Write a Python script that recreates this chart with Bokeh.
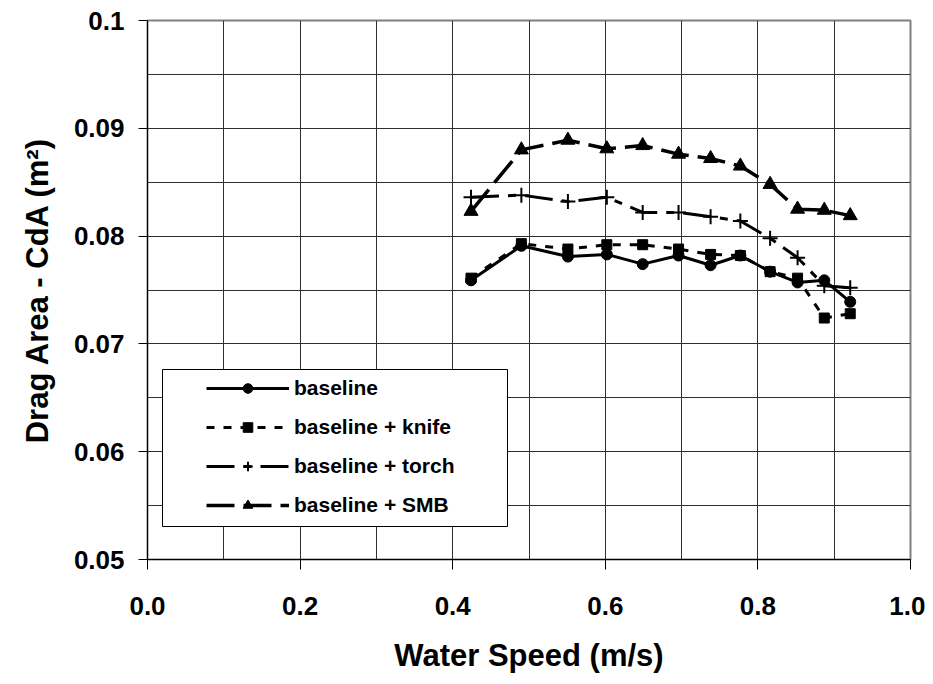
from bokeh.plotting import figure
from bokeh.models import Legend, LegendItem, BoxAnnotation, FixedTicker, NumeralTickFormatter
from bokeh.embed import file_html
from bokeh.resources import INLINE

# ---- data ----
speed = [0.424, 0.490, 0.551, 0.602, 0.649, 0.696, 0.738, 0.777, 0.816, 0.852, 0.887, 0.921]
baseline = [0.0759, 0.0791, 0.0781, 0.0783, 0.0774, 0.0782, 0.0773, 0.0782, 0.0767, 0.0757, 0.0759, 0.0739]
knife = [0.0761, 0.0793, 0.0788, 0.0792, 0.0792, 0.0788, 0.0783, 0.0782, 0.0767, 0.0761, 0.0724, 0.0728]
torch = [0.0836, 0.0838, 0.0832, 0.0836, 0.0822, 0.0822, 0.0818, 0.0814, 0.0798, 0.0780, 0.0754, 0.0752]
smb = [0.0823, 0.0880, 0.0889, 0.0881, 0.0884, 0.0876, 0.0872, 0.0865, 0.0848, 0.0825, 0.0824, 0.0819]
series_names = ["baseline", "baseline + knife", "baseline + torch", "baseline + SMB"]

x_ticks = [0.0, 0.2, 0.4, 0.6, 0.8, 1.0]
x_minor = [0.1, 0.3, 0.5, 0.7, 0.9]
y_ticks = [0.05, 0.06, 0.07, 0.08, 0.09, 0.1]
y_minor = [0.055, 0.065, 0.075, 0.085, 0.095]

FONT = "Liberation Sans"

p = figure(width=925, height=676, x_range=(0, 1), y_range=(0.05, 0.1),
           output_backend="svg", toolbar_location=None,
           min_border_left=147, min_border_right=15, min_border_top=20, min_border_bottom=117)

p.background_fill_color = "white"
p.border_fill_color = "white"
p.outline_line_color = "#808080"
p.outline_line_width = 2

# axes
p.xaxis.ticker = FixedTicker(ticks=x_ticks, minor_ticks=x_minor)
p.yaxis.ticker = FixedTicker(ticks=y_ticks, minor_ticks=y_minor)
p.xaxis.formatter = NumeralTickFormatter(format="0.0")
p.yaxis.formatter = NumeralTickFormatter(format="0.0[0]")
for ax in (p.xaxis, p.yaxis):
    ax.axis_line_color = "black"
    ax.axis_line_width = 1
    ax.major_tick_line_color = "black"
    ax.major_tick_in = 0
    ax.minor_tick_line_color = None
    ax.major_label_text_font = FONT
    ax.major_label_text_font_style = "bold"
    ax.major_label_text_font_size = "26px"
    ax.major_label_text_color = "black"
    ax.axis_label_text_font = FONT
    ax.axis_label_text_font_style = "bold"
    ax.axis_label_text_font_size = "31px"
    ax.axis_label_text_color = "black"
p.xaxis.major_tick_out = 10
p.yaxis.major_tick_out = 9
p.xaxis.major_label_standoff = 27
p.yaxis.major_label_standoff = 14
p.xaxis.axis_label = "Water Speed (m/s)"
p.yaxis.axis_label = "Drag Area - CdA (m²)"
p.xaxis.axis_label_standoff = 20
p.yaxis.axis_label_standoff = 16

# grid
for g in (p.xgrid, p.ygrid):
    g.grid_line_color = "#303030"
    g.grid_line_width = 1
    g.minor_grid_line_color = "#303030"
    g.minor_grid_line_width = 1

# series
l1 = p.line(speed, baseline, line_color="black", line_width=3)
m1 = p.scatter(speed, baseline, marker="circle", size=11, fill_color="black", line_color="black")

l2 = p.line(speed, knife, line_color="black", line_width=3, line_dash="8 9")
m2 = p.scatter(speed, knife, marker="square", size=10, fill_color="black", line_color="black")

l3 = p.line(speed, torch, line_color="black", line_width=3, line_dash="28 9 8 9")
m3 = p.scatter(speed, torch, marker="cross", size=15, line_color="black", line_width=2)

l4 = p.line(speed, smb, line_color="black", line_width=3.5, line_dash="28 9")
m4 = p.scatter(speed, smb, marker="triangle", size=14, fill_color="black", line_color="black")

# legend frame
box = BoxAnnotation(left=15, right=360, bottom=33, top=190,
                    left_units="screen", right_units="screen",
                    bottom_units="screen", top_units="screen",
                    fill_color="white", fill_alpha=1.0,
                    line_color="black", line_width=1, line_alpha=1.0)
p.add_layout(box)

legend = Legend(items=[LegendItem(label=series_names[0], renderers=[l1, m1]),
                       LegendItem(label=series_names[1], renderers=[l2, m2]),
                       LegendItem(label=series_names[2], renderers=[l3, m3]),
                       LegendItem(label=series_names[3], renderers=[l4, m4])],
                location=(59, 42), padding=0, margin=0, spacing=15,
                glyph_width=83, glyph_height=24, label_height=24, label_standoff=5,
                label_text_font=FONT, label_text_font_style="bold",
                label_text_font_size="21px", label_text_color="black",
                border_line_color=None, background_fill_alpha=0)
p.add_layout(legend)

open("out.html", "w").write(file_html(p, INLINE))
